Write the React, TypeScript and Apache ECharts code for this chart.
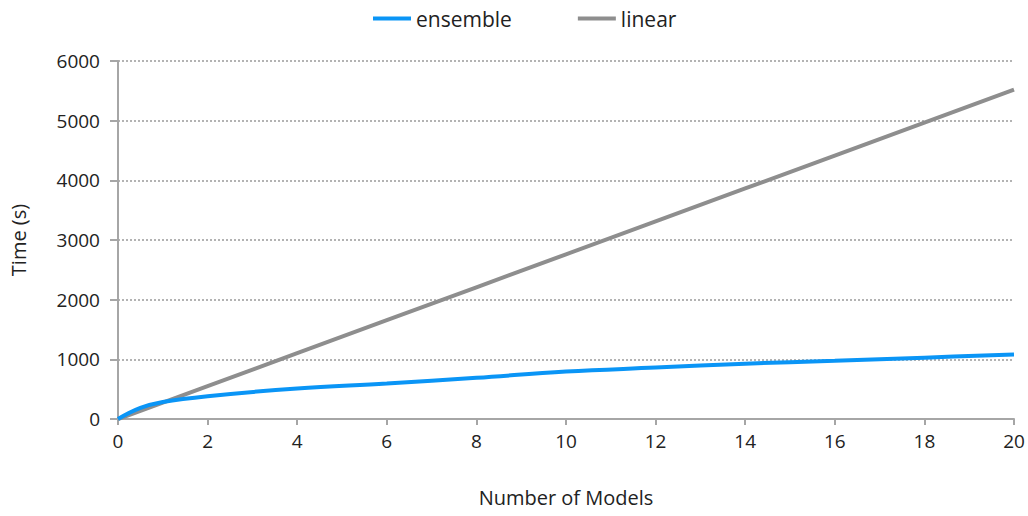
import React, { useEffect, useRef } from "react";
import * as echarts from "echarts";

const modelCounts = [0, 0.5, 1, 2, 4, 6, 8, 10, 12, 14, 16, 18, 20];
const ensembleTimes = [0, 185, 285, 383, 512, 595, 690, 795, 862, 928, 975, 1028, 1083];
const linearTimes = [0, 138, 276, 552, 1104, 1656, 2208, 2760, 3312, 3864, 4416, 4968, 5520];
const seriesNames = ["ensemble", "linear"];
const FONT = "'Open Sans', sans-serif";

export default function App() {
  const ref = useRef<HTMLDivElement>(null);
  useEffect(() => {
    document.body.style.margin = "0";
    const chart = echarts.init(ref.current!, null, { renderer: "svg" });
    const axisGray = "#a6a6a6";
    chart.setOption({
      animation: false,
      backgroundColor: "#ffffff",
      textStyle: { fontFamily: FONT },
      legend: {
        top: 3,
        left: 368,
        itemWidth: 38,
        itemHeight: 4,
        itemGap: 66,
        icon: "rect",
        textStyle: { fontFamily: FONT, fontSize: 21, color: "#222" },
        data: seriesNames,
      },
      grid: { left: 118, right: 14, top: 61, bottom: 97 },
      xAxis: {
        type: "value",
        min: 0,
        max: 20,
        interval: 2,
        name: "Number of Models",
        nameLocation: "middle",
        nameGap: 68,
        nameTextStyle: { fontFamily: FONT, fontSize: 20, color: "#222" },
        axisLine: { lineStyle: { color: axisGray, width: 2 } },
        axisTick: { show: true, length: 6, lineStyle: { color: axisGray, width: 2 } },
        axisLabel: { fontFamily: FONT, fontSize: 19, color: "#222", margin: 12 },
        splitLine: { show: false },
      },
      yAxis: {
        type: "value",
        min: 0,
        max: 6000,
        interval: 1000,
        name: "Time (s)",
        nameLocation: "middle",
        nameGap: 90,
        nameTextStyle: { fontFamily: FONT, fontSize: 20, color: "#222" },
        axisLine: { show: true, lineStyle: { color: axisGray, width: 2 } },
        axisTick: { show: true, length: 8, lineStyle: { color: axisGray, width: 2 } },
        axisLabel: {
          fontFamily: FONT,
          fontSize: 19,
          color: "#222",
          margin: 18,
          formatter: (v: number) => String(v),
        },
        splitLine: { show: true, lineStyle: { color: "#9a9a9a", type: [2, 2], width: 1.5 } },
      },
      series: [
        {
          name: seriesNames[0],
          type: "line",
          smooth: 0.4,
          showSymbol: false,
          lineStyle: { color: "#0a95f6", width: 4 },
          itemStyle: { color: "#0a95f6" },
          z: 3,
          data: modelCounts.map((x, i) => [x, ensembleTimes[i]]),
        },
        {
          name: seriesNames[1],
          type: "line",
          showSymbol: false,
          lineStyle: { color: "#8e8e8e", width: 4 },
          itemStyle: { color: "#8e8e8e" },
          z: 2,
          data: modelCounts.map((x, i) => [x, linearTimes[i]]),
        },
      ],
    });
    return () => chart.dispose();
  }, []);
  return <div ref={ref} style={{ width: 1028, height: 516 }} />;
}
